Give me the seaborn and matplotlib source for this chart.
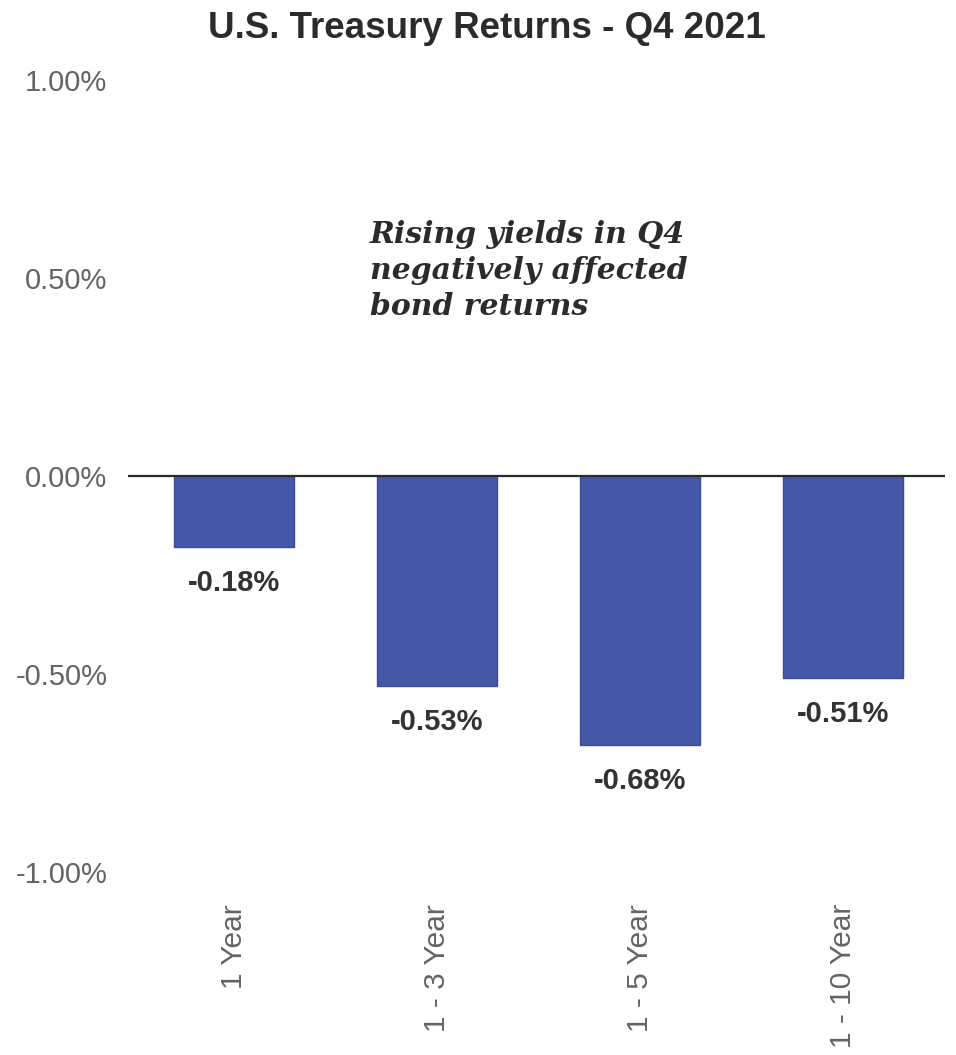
import matplotlib
matplotlib.use("Agg")
import matplotlib.pyplot as plt
import seaborn as sns
import pandas as pd

# ── Data ──────────────────────────────────────────────────────
categories = ["1 Year", "1 - 3 Year", "1 - 5 Year", "1 - 10 Year"]
returns    = [-0.18, -0.53, -0.68, -0.51]
yticks     = [1.0, 0.5, 0.0, -0.5, -1.0]

TITLE = "U.S. Treasury Returns - Q4 2021"
NOTE  = "Rising yields in Q4\nnegatively affected\nbond returns"

BAR_COLOR = "#4558a8"

df = pd.DataFrame({"category": categories, "ret": returns})

# ── Plot ──────────────────────────────────────────────────────
sns.set_style("white")
plt.rcParams["font.family"] = ["Liberation Sans", "DejaVu Sans"]

fig = plt.figure(figsize=(9.56, 10.55), dpi=100)
ax = fig.add_axes([0.134, 0.1735, 0.854, 0.7505])

sns.barplot(data=df, x="category", y="ret", color=BAR_COLOR,
            width=0.59, edgecolor="#3a4c98", linewidth=1, saturation=1, ax=ax)

ax.axhline(0, color="#2b2b2b", lw=1.6, zorder=3)

ax.set_xlim(-0.52, 3.5)
ax.set_ylim(-1.0, 1.0)
ax.set_yticks(yticks)
ax.set_yticklabels([f"{v:.2f}%" for v in yticks])
ax.tick_params(axis="y", length=0, pad=15, labelsize=21, labelcolor="#646464")
ax.tick_params(axis="x", length=0, pad=23, labelsize=21.5, labelcolor="#646464")
plt.setp(ax.get_xticklabels(), rotation=90, va="top", ha="center")
ax.set_xlabel("")
ax.set_ylabel("")
sns.despine(ax=ax, left=True, bottom=True)

# value labels under each bar
for i, v in enumerate(returns):
    ax.annotate(f"{v:.2f}%", xy=(i, v), xytext=(0, -26),
                textcoords="offset points", ha="center", va="center",
                fontsize=21, fontweight="bold", color="#333333")

ax.text(0.67, 0.648, NOTE, ha="left", va="top", fontsize=21.5,
        family="DejaVu Serif", style="italic", fontweight="bold",
        color="#2b2b2b", linespacing=1.32)

fig.suptitle(TITLE, x=0.509, y=0.973, va="center",
             fontsize=26.5, fontweight="bold", color="#2b2b2b")

fig.savefig("out.png", dpi=100)
